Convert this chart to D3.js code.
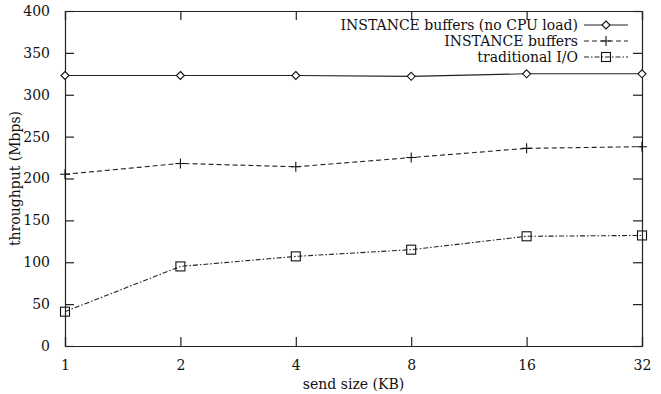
<!DOCTYPE html>
<meta charset="utf-8">
<style>
body { margin: 0; background: #fff; }
</style>
<body>
<svg id="chart" width="661" height="394"></svg>
<script src="https://cdnjs.cloudflare.com/ajax/libs/d3/7.8.5/d3.min.js"></script>
<script>
// send sizes (KB) and throughput values
var sizes = [1, 2, 4, 8, 16, 32];
var noLoad = [323, 323, 323, 322, 325, 325];
var instance = [205, 218, 214, 225, 236, 238];
var traditional = [41, 95, 107, 115, 131, 132];
var yTicks = [0, 50, 100, 150, 200, 250, 300, 350, 400];
var seriesNames = ["INSTANCE buffers (no CPU load)", "INSTANCE buffers", "traditional I/O"];

var margin = {left: 65, right: 19, top: 11, bottom: 48};
var width = 661, height = 394;
var fontFamily = "'DejaVu Serif', 'Liberation Serif', serif";
var fontSize = "14px";

var svg = d3.select("#chart");

var x = d3.scaleLog().base(2).domain([1, 32]).range([margin.left, width - margin.right]);
var y = d3.scaleLinear().domain([0, 400]).range([height - margin.bottom, margin.top]);

var series = [
  {name: seriesNames[0], values: noLoad, dash: null, marker: "diamond"},
  {name: seriesNames[1], values: instance, dash: "5,3", marker: "plus"},
  {name: seriesNames[2], values: traditional, dash: "5,2,1.5,2", marker: "square"}
];

// axes: gnuplot style, ticks pointing inward and mirrored
var tickLen = 9;
svg.append("g")
  .attr("transform", "translate(" + margin.left + ",0)")
  .call(d3.axisLeft(y).tickValues(yTicks).tickSize(-tickLen).tickPadding(tickLen + 6).tickFormat(d3.format("d")));
svg.append("g")
  .attr("transform", "translate(" + (width - margin.right) + ",0)")
  .call(d3.axisRight(y).tickValues(yTicks).tickSize(-tickLen).tickFormat(""));
svg.append("g")
  .attr("transform", "translate(0," + (height - margin.bottom) + ")")
  .call(d3.axisBottom(x).tickValues(sizes).tickSize(-tickLen).tickPadding(tickLen + 5).tickFormat(d3.format("d")));
svg.append("g")
  .attr("transform", "translate(0," + margin.top + ")")
  .call(d3.axisTop(x).tickValues(sizes).tickSize(-tickLen).tickFormat(""));

svg.selectAll(".domain").attr("stroke", "#222").attr("stroke-width", 1.2);
svg.selectAll(".tick line").attr("stroke", "#222").attr("stroke-width", 1.2);

// axis titles
svg.append("text")
  .attr("x", (margin.left + width - margin.right) / 2)
  .attr("y", 389)
  .attr("text-anchor", "middle")
  .text("send size (KB)");
svg.append("text")
  .attr("transform", "translate(20," + ((margin.top + height - margin.bottom) / 2) + ") rotate(-90)")
  .attr("text-anchor", "middle")
  .text("throughput (Mbps)");

function drawMarker(g, type, cx, cy) {
  if (type === "diamond") {
    g.append("path")
      .attr("d", "M" + cx + "," + (cy - 4) + "L" + (cx + 4) + "," + cy + "L" + cx + "," + (cy + 4) + "L" + (cx - 4) + "," + cy + "Z")
      .attr("fill", "#fff").attr("stroke", "#111").attr("stroke-width", 1.1);
  } else if (type === "plus") {
    g.append("path")
      .attr("d", "M" + (cx - 5) + "," + cy + "H" + (cx + 5) + "M" + cx + "," + (cy - 5) + "V" + (cy + 5))
      .attr("stroke", "#111").attr("stroke-width", 1.1);
  } else {
    g.append("rect")
      .attr("x", cx - 4.5).attr("y", cy - 4.5).attr("width", 9).attr("height", 9)
      .attr("fill", "none").attr("stroke", "#111").attr("stroke-width", 1.1);
  }
}

var line = d3.line()
  .x(function(d) { return x(d.k); })
  .y(function(d) { return y(d.v); });

series.forEach(function(s) {
  var pts = sizes.map(function(k, i) { return {k: k, v: s.values[i]}; });
  svg.append("path")
    .datum(pts)
    .attr("d", line)
    .attr("fill", "none")
    .attr("stroke", "#222")
    .attr("stroke-width", 1.1)
    .attr("stroke-dasharray", s.dash);
  var g = svg.append("g");
  pts.forEach(function(p) { drawMarker(g, s.marker, x(p.k), y(p.v)); });
});

// legend, top right inside the plot
var legX = 578, legY = 25, legStep = 16;
series.forEach(function(s, i) {
  var yy = legY + i * legStep;
  svg.append("text")
    .attr("x", legX).attr("y", yy)
    .attr("dy", "0.35em")
    .attr("text-anchor", "end")
    .text(s.name);
  svg.append("line")
    .attr("x1", legX + 6).attr("x2", legX + 50)
    .attr("y1", yy).attr("y2", yy)
    .attr("stroke", "#222").attr("stroke-width", 1.1)
    .attr("stroke-dasharray", s.dash);
  drawMarker(svg, s.marker, legX + 28, yy);
});

// one font for every label
svg.selectAll("text")
  .style("font-family", fontFamily)
  .style("font-size", fontSize)
  .style("fill", "#111");
</script>
</body>
